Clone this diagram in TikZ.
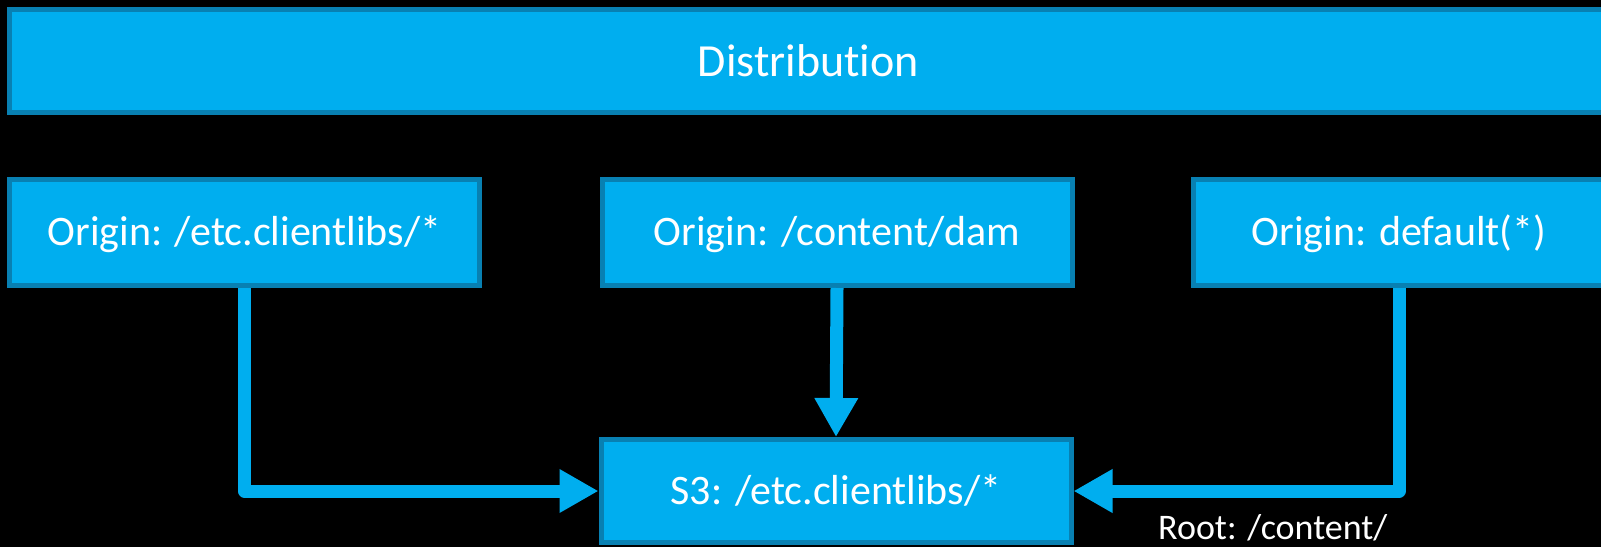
\documentclass[tikz,border=0pt]{standalone}
\usepackage{fontspec}
\setmainfont{Carlito}[Ligatures=NoCommon]
\usepackage{tikz}
\usetikzlibrary{arrows.meta}
\definecolor{cdnblue}{HTML}{00AEEF}
\definecolor{cdnedge}{HTML}{0880B2}

\begin{document}
\begin{tikzpicture}[x=1pt,y=1pt,
    box/.style={draw=cdnedge,fill=cdnblue,line width=5pt,text=white,inner sep=0pt,
      text height=26.5pt,text depth=0pt,
      minimum width=470pt,minimum height=106pt,font=\fontsize{42}{50}\selectfont},
    link/.style={draw=cdnblue,line width=13pt,line join=round,
      -{Triangle[length=39pt,width=41pt]}}]
      \fill[black] (0,0) rectangle (1601,-547);
      \useasboundingbox (0,0) rectangle (1601,-547);
      \node[box,minimum width=1598pt,minimum height=103pt,text height=30pt,
        font=\fontsize{46}{55}\selectfont] (dist) at (808.5,-61) {Distribution};
      \node[box] (origin1) at (244.5,-232.5) {Origin: /etc.clientlibs/*};
      \node[box] (origin2) at (837,-232.5) {Origin: /content/dam};
      \node[box,minimum width=411pt] (origin3) at (1399,-232.5) {Origin: default(*)};
      \node[box,minimum height=103pt] (s3) at (836,-491) {S3: /etc.clientlibs/*};
      \draw[link] (origin1.south) |- (s3.west);
      \draw[link] (origin2.south) -- (s3.north);
      \draw[link] (origin3.south) |- (s3.east);
      \node[anchor=base west,text=white,inner sep=0pt,
        font=\fontsize{36}{43}\selectfont] (root) at (1158,-539) {Root: /content/};
    \end{tikzpicture}
\end{document}
